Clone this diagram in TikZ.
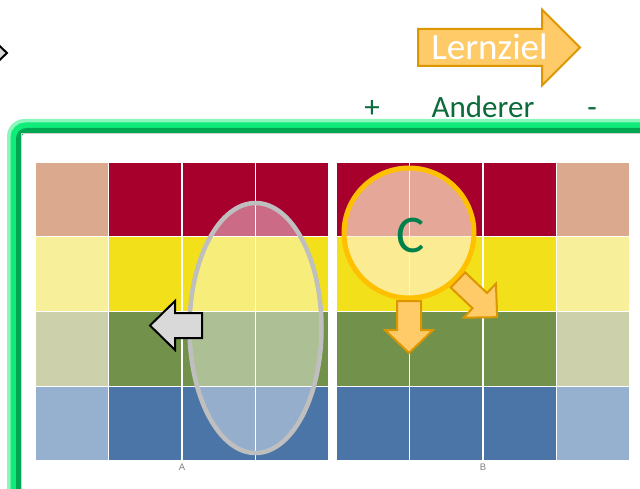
\documentclass[tikz,border=0pt]{standalone}
\usepackage{fontspec}
\setmainfont{Carlito}
\newfontfamily\labfont{Liberation Sans}
\definecolor{ltan}{HTML}{DBAA8E}
\definecolor{dred}{HTML}{A8002D}
\definecolor{lyel}{HTML}{F7EF99}
\definecolor{dyel}{HTML}{F2E01A}
\definecolor{lgrn}{HTML}{CDD1AB}
\definecolor{dgrn}{HTML}{72914A}
\definecolor{lblu}{HTML}{96B1CF}
\definecolor{dblu}{HTML}{4A75A6}
\definecolor{framegreen}{HTML}{00A651}
\definecolor{glowgreen}{HTML}{10EC7A}
\definecolor{glowsoft}{HTML}{8CF7BC}
\definecolor{txtgreen}{HTML}{0B6B3A}
\definecolor{cgreen}{HTML}{00804A}
\definecolor{ellgray}{HTML}{BFBFBF}
\definecolor{ringorange}{HTML}{FFC000}
\definecolor{ringfill}{HTML}{FFF0C6}
\definecolor{arrfill}{HTML}{FFCA68}
\definecolor{arrline}{HTML}{DB9600}
\definecolor{grayarrow}{HTML}{D9D9D9}
\definecolor{labgray}{HTML}{808080}
\newcommand\blkarrowpath[5]{(0,-#1)--(#2-#3,-#1)--(#2-#3,-#4)--(#2,0)--(#2-#3,#4)--(#2-#3,#1)--(0,#1)--cycle}
\tikzset{
  cell/.style={draw=white, line width=1.5pt},
  orangearrow/.style={fill=arrfill, draw=arrline, line width=2pt, line join=miter},
  greyblock/.style={fill=grayarrow, draw=black, line width=2pt, line join=miter},
  headtext/.style={text=txtgreen, font=\fontsize{31}{34}\selectfont, inner sep=0pt, anchor=base},
  cellab/.style={text=labgray, font=\labfont\fontsize{9.5}{10}\selectfont, inner sep=0pt}
}
\begin{document}
\begin{tikzpicture}[x=1pt,y=-1pt]
\useasboundingbox (0,0) rectangle (640,489);
\clip (0,0) rectangle (640,489);
\fill[white] (0,0) rectangle (640,489);

% top-left partial arrow tip
\draw[greyblock] (-12,35) -- (7,53) -- (-12,71) -- cycle;

% green frame with glow
\draw[glowsoft, line width=5pt, rounded corners=15pt] (9.5,121.5) rectangle (720,560);
\draw[glowgreen, line width=6pt, rounded corners=12pt] (13.5,125.5) rectangle (720,560);
\draw[framegreen, line width=5pt, rounded corners=8pt] (18.5,130.5) rectangle (720,560);
\draw[black!18, line width=0.8pt] (21.4,133.4) rectangle (720,560);

% grids
\foreach \r/\lc/\dc in {0/ltan/dred,1/lyel/dyel,2/lgrn/dgrn,3/lblu/dblu}{
  \foreach \c in {0,1,2,3}{
    \pgfmathsetmacro{\ya}{162+\r*74.75}
    \pgfmathsetmacro{\yb}{162+(\r+1)*74.75}
    \pgfmathsetmacro{\xa}{35+\c*73.5}
    \pgfmathsetmacro{\xb}{35+(\c+1)*73.5}
    \pgfmathsetmacro{\xc}{336+\c*73.5}
    \pgfmathsetmacro{\xd}{336+(\c+1)*73.5}
    \ifnum\c=0
      \fill[\lc, cell] (\xa,\ya) rectangle (\xb,\yb);
      \fill[\dc, cell] (\xc,\ya) rectangle (\xd,\yb);
    \else
      \ifnum\c=3
        \fill[\dc, cell] (\xa,\ya) rectangle (\xb,\yb);
        \fill[\lc, cell] (\xc,\ya) rectangle (\xd,\yb);
      \else
        \fill[\dc, cell] (\xa,\ya) rectangle (\xb,\yb);
        \fill[\dc, cell] (\xc,\ya) rectangle (\xd,\yb);
      \fi
    \fi
  }
}
\node[cellab] (labA) at (182,467) {A};
\node[cellab] (labB) at (483,467) {B};

% ellipse highlight
\draw[ellgray, line width=4.5pt, fill=white, fill opacity=0.42] (255.5,328) ellipse [x radius=66, y radius=125];

% circle C
\draw[ringorange, line width=5pt, fill=ringfill, fill opacity=0.7] (409,233) circle [radius=65];
\node[text=cgreen, font=\fontsize{53}{56}\selectfont, inner sep=0pt, anchor=base] (cmark) at (411,253) {C};

% orange arrows
\begin{scope}[shift={(409,301)}, rotate=-90]
  \draw[orangearrow] \blkarrowpath{12}{52}{23}{24}{};
\end{scope}
\begin{scope}[shift={(458,280)}, rotate=-43.5]
  \draw[orangearrow] \blkarrowpath{10.5}{54}{24}{23.5}{};
\end{scope}

% grey left arrow
\begin{scope}[shift={(202,325.5)}, rotate=180]
  \draw[greyblock] \blkarrowpath{12.5}{52}{25}{24.5}{};
\end{scope}

% Lernziel arrow
\begin{scope}[shift={(418,47.5)}]
  \draw[orangearrow] \blkarrowpath{18.5}{162}{38}{38}{};
\end{scope}
\node[text=white, font=\fontsize{37}{40}\selectfont, inner sep=0pt, anchor=base] (lernziel) at (489.5,60) {Lernziel};

% axis labels
\node[headtext] (plus) at (372,118) {+};
\node[headtext] (anderer) at (483,118) {Anderer};
\node[headtext] (minus) at (592,118) {-};
\end{tikzpicture}
\end{document}
